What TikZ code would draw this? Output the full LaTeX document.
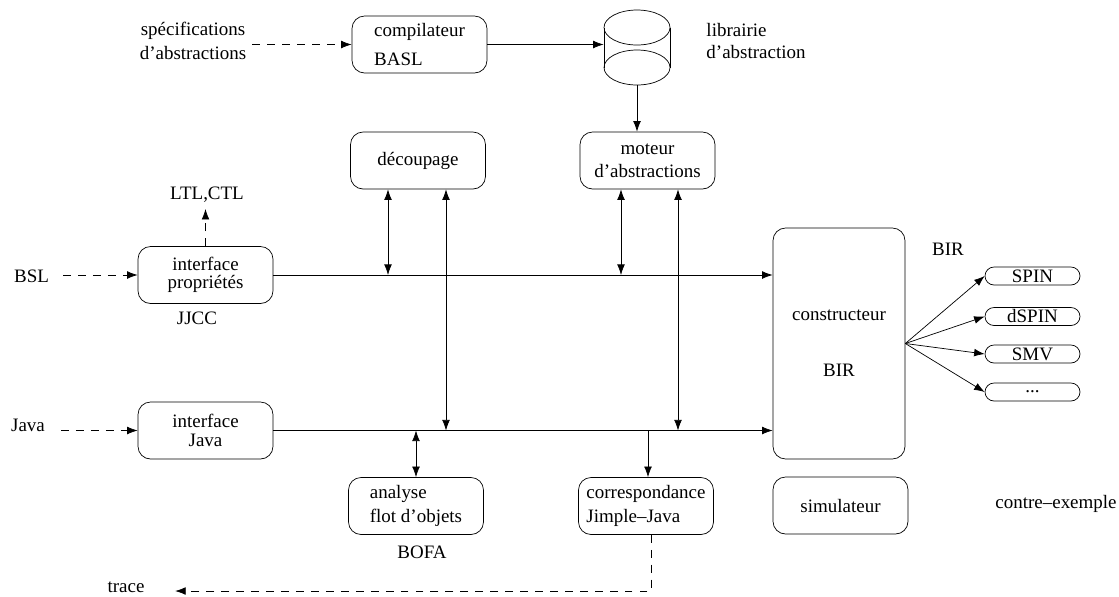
\documentclass[tikz,border=0pt]{standalone}
\usepackage{fontspec}
\setmainfont{Liberation Serif}
\usetikzlibrary{arrows.meta}
\begin{document}
\begin{tikzpicture}[x=0.02cm, y=-0.02cm,
	every node/.style={font=\fontsize{10.8}{13}\selectfont},
	bloc/.style={draw, rectangle, rounded corners=0.25cm, minimum width=2.7cm, minimum height=1.14cm, inner sep=0pt},
	pilule/.style={draw, rectangle, rounded corners=0.18cm, minimum width=1.9cm, minimum height=0.36cm, inner sep=0pt},
	fleche/.style={-{Latex[length=6pt, width=4.4pt]}},
	dfleche/.style={{Latex[length=6pt, width=4.4pt]}-{Latex[length=6pt, width=4.4pt]}},
	tirets/.style={dash pattern=on 4.5pt off 4pt}]
	\useasboundingbox (0,0) rectangle (1119,596);

	\node [bloc, align=left] (comp) at (419.5,44.5) {compilateur\\[3pt]BASL};
	\node [bloc] (decoup) at (418,160.5) {découpage};
	\node [bloc, align=center] (moteur) at (647.5,160.5) {moteur\\d'abstractions};
	\node [bloc, align=center] (ifprop) at (205.5,275) {interface\\[-3pt]propriétés};
	\node [bloc, align=center] (ifjava) at (205.5,430.5) {interface\\[-2pt]Java};
	\node [bloc, align=left] (analyse) at (416,506) {analyse\\[1pt]flot d'objets};
	\node [bloc, align=left] (corresp) at (646,506) {correspondance\\[1pt]Jimple--Java};
	\node [bloc, minimum width=2.64cm, minimum height=4.62cm, align=center] (constr) at (839,343.5) {constructeur\\[19pt]BIR};
	\node [bloc] (simul) at (840.5,505.5) {simulateur};
	\node [pilule] (spin) at (1032.5,276) {SPIN};
	\node [pilule] (dspin) at (1032.5,316.5) {dSPIN};
	\node [pilule] (smv) at (1032.5,354) {SMV};
	\node [pilule] (autres) at (1032.5,392) {...};

	\node [minimum width=1.32cm, minimum height=1.5cm, inner sep=0pt] (lib) at (637,47.5) {};
	\draw (604,27.5) -- (604,67.5) (670,27.5) -- (670,67.5);
	\draw (637,27.5) ellipse [x radius=0.66cm, y radius=0.35cm];
	\draw (637,67.5) ellipse [x radius=0.66cm, y radius=0.35cm];

	\node [align=center] (spec) at (193,41) {spécifications\\[0.5pt]d'abstractions};
	\node [align=left] (libtxt) at (756,41) {librairie\\[0pt]d'abstraction};
	\node (ltl) at (207,195) {LTL,CTL};
	\node (bsl) at (31.5,276) {BSL};
	\node (jjcc) at (197,318) {JJCC};
	\node (java) at (28,425) {Java};
	\node (bofa) at (422,552) {BOFA};
	\node (trace) at (126,587) {trace};
	\node (birlbl) at (948,249) {BIR};
	\node (contre) at (1056,504) {contre--exemple};

	\coordinate (hA) at (388,275);
	\coordinate (hB) at (621,275);
	\coordinate (bA) at (446,430.5);
	\coordinate (bB) at (678,430.5);
	\coordinate (bC) at (416,430.5);
	\coordinate (bD) at (648,430.5);
	\coordinate (cT) at (651,591);

	\draw [tirets, fleche] (spec.east |- comp.west) -- (comp.west);
	\draw [fleche] (comp.east) -- (comp.east -| lib.west);
	\draw [fleche] (lib.south) -- (lib.south |- moteur.north);
	\draw [tirets, fleche] (ifprop.north) -- (ifprop.north |- ltl.south);
	\draw [tirets, fleche, shorten <=0.16cm] (bsl.east |- ifprop.west) -- (ifprop.west);
	\draw [tirets, fleche, shorten <=0.2cm] (java.east |- ifjava.west) -- (ifjava.west);
	\draw [fleche] (ifprop.east) -- (ifprop.east -| constr.west);
	\draw [fleche] (ifjava.east) -- (ifjava.east -| constr.west);

	\draw [dfleche] (decoup.south -| hA) -- (hA);
	\draw [dfleche] (decoup.south -| bA) -- (bA);
	\draw [dfleche] (moteur.south -| hB) -- (hB);
	\draw [dfleche] (moteur.south -| bB) -- (bB);
	\draw [dfleche] (bC) -- (analyse.north -| bC);
	\draw [fleche] (bD) -- (corresp.north -| bD);
	\draw [tirets, fleche, shorten >=0.49cm] (corresp.south -| cT) -- (cT) -- (trace.east |- cT);

	\foreach \p in {spin, dspin, smv, autres}
		\draw [fleche] (constr.east) -- (\p.west);
\end{tikzpicture}
\end{document}
